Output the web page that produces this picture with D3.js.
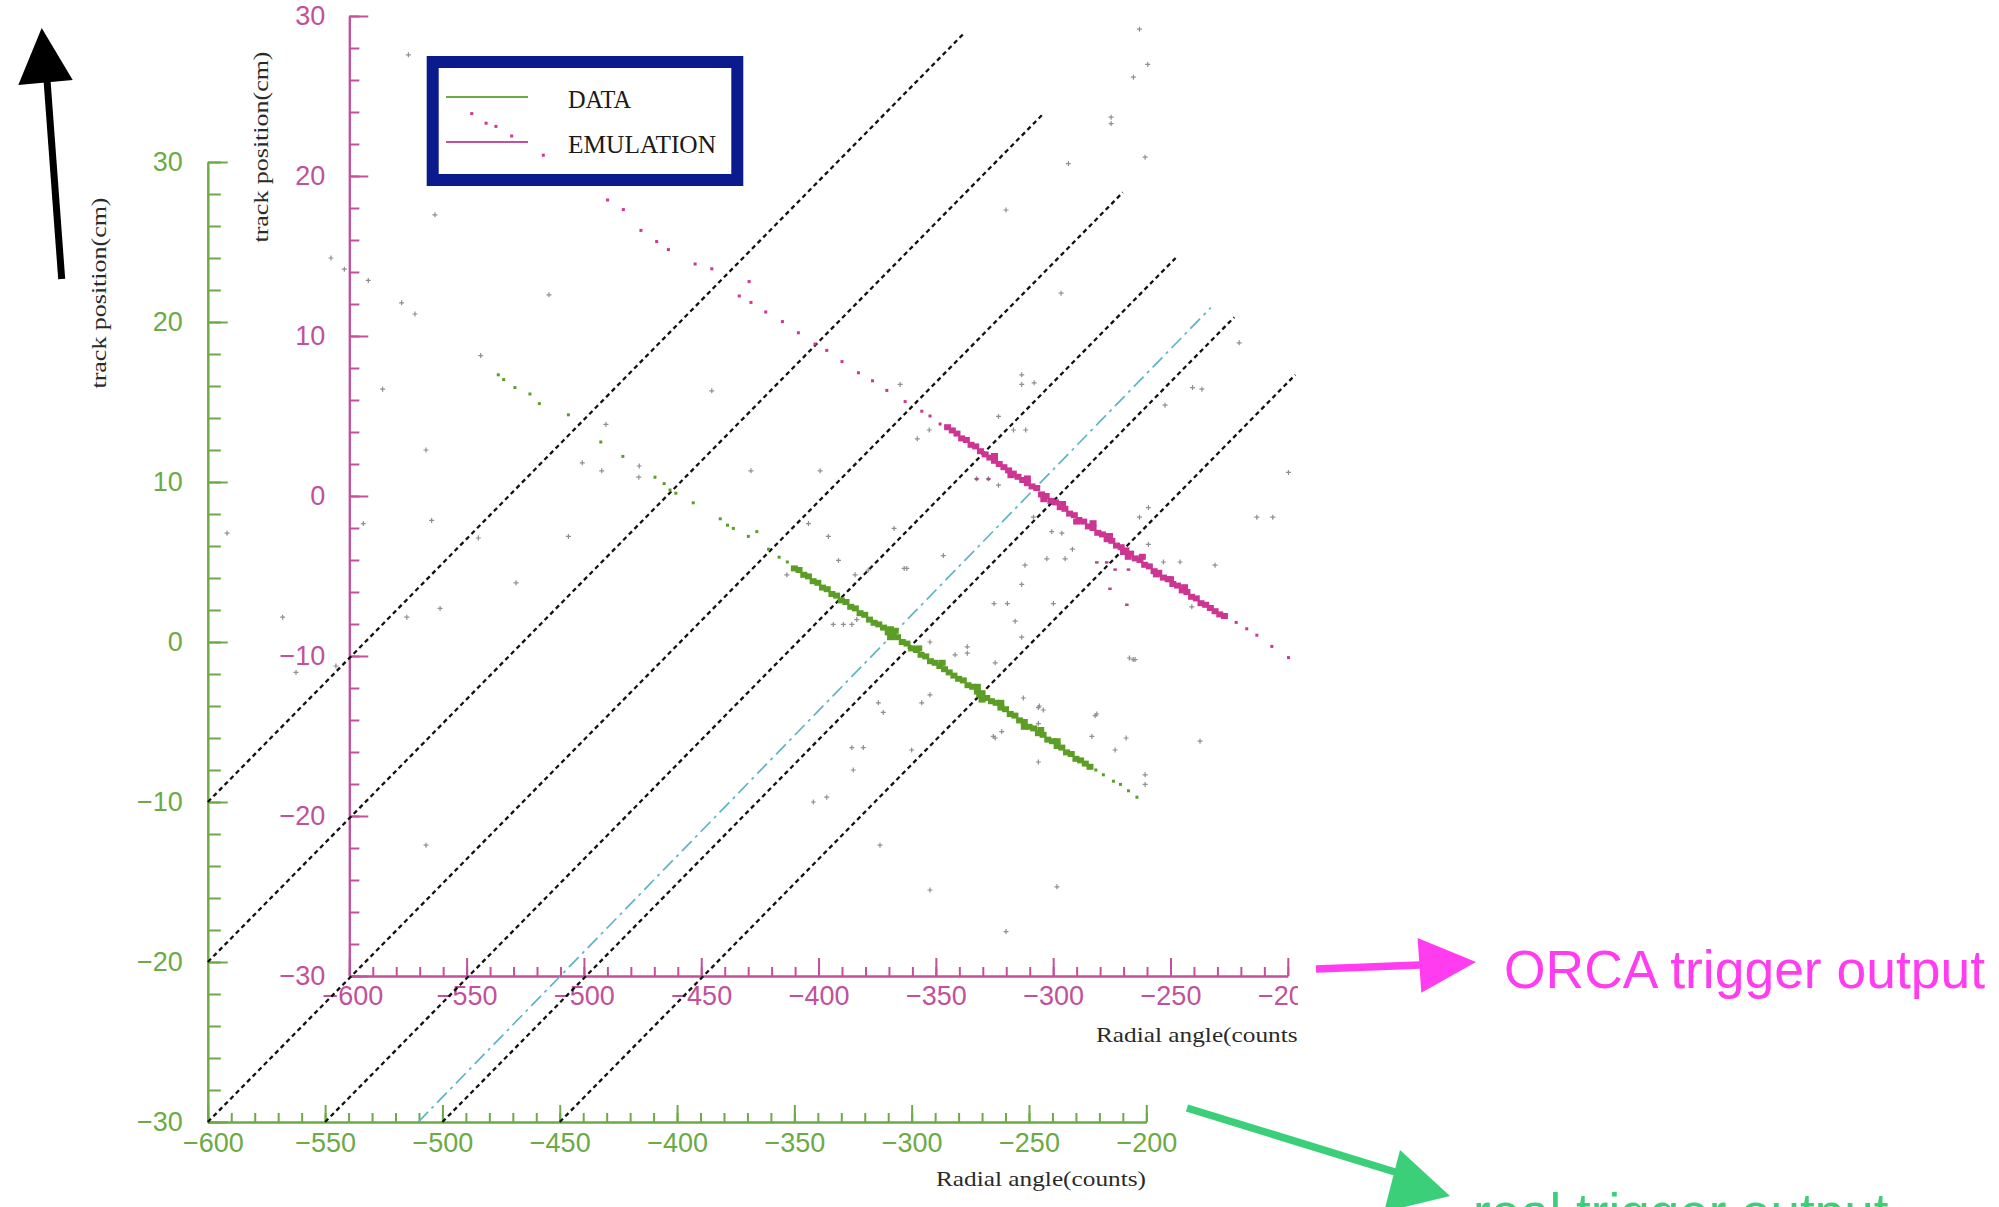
<!DOCTYPE html>
<html lang="en">
<head>
<meta charset="utf-8">
<title>Track position vs radial angle</title>
<script src="https://cdn.jsdelivr.net/npm/d3@7/dist/d3.min.js"></script>
<style>
  html, body { margin: 0; padding: 0; background: #fff; }
  svg { display: block; }
</style>
</head>
<body>
<svg id="chart" width="1999" height="1207"></svg>
<script>
// ---------------- axis ticks ----------------
const angleTicks = [-600, -550, -500, -450, -400, -350, -300, -250, -200];
const positionTicks = [30, 20, 10, 0, -10, -20, -30];
const angleDomain = [-600, -200];
const positionDomain = [-30, 30];

// ---------------- legend ----------------
const seriesNames = ["DATA", "EMULATION"];

// ---------------- hits: real trigger output (counts, cm) ----------------
const dataTrackSparse = [
  [-476.2, 16.7], [-473.9, 16.4], [-469.1, 15.9], [-462.7, 15.5], [-458.7, 14.9], [-446.3, 14.2],
  [-432.5, 12.5], [-423.1, 11.6], [-409.4, 10.3], [-405.5, 9.9], [-403.0, 9.5], [-400.5, 9.3],
  [-393.1, 8.7], [-381.6, 7.7], [-378.5, 7.3], [-376.0, 7.1], [-369.6, 6.6], [-366.0, 6.9],
  [-361.0, 5.8], [-356.5, 5.3], [-353.0, 5.0],
  [-221.5, -8.0], [-218.3, -8.3], [-214.0, -8.7], [-211.0, -8.9], [-207.6, -9.3], [-204.0, -9.7]
];
const dataTrackDense = [
  [-350, 4.6], [-348, 4.5], [-346, 4.2], [-344, 4.1], [-342, 3.8], [-340, 3.7], [-338, 3.4],
  [-336, 3.3], [-334, 3.0], [-332, 2.9], [-330, 2.6], [-328, 2.5], [-326, 2.2], [-324, 2.1],
  [-322, 1.8], [-320, 1.7], [-318, 1.4], [-316, 1.2], [-314, 1.1], [-312, 0.9], [-310, 0.6],
  [-309, 0.8], [-308, 0.4], [-306, 0.3], [-304, 0.0], [-302, -0.1], [-300, -0.4], [-298, -0.5],
  [-296, -0.8], [-294, -0.9], [-292, -1.2], [-290, -1.3], [-288, -1.5], [-286, -1.7], [-284, -1.9],
  [-282, -2.1], [-280, -2.3], [-278, -2.4], [-276, -2.7], [-274, -2.8], [-272, -3.1], [-271, -3.3],
  [-270, -3.2], [-268, -3.5], [-266, -3.7], [-264, -3.8], [-262, -4.1], [-260, -4.2], [-258, -4.5],
  [-256, -4.6], [-254, -4.9], [-252, -5.0], [-250, -5.3], [-248, -5.4], [-246, -5.7], [-244, -5.8],
  [-242, -6.1], [-240, -6.2], [-238, -6.5], [-236, -6.6], [-234, -6.9], [-232, -7.0], [-230, -7.3],
  [-228, -7.4], [-226, -7.6], [-224, -7.8],
  // heavier clusters along the track
  [-309, 0.3], [-307, 0.7], [-297, -0.4], [-287, -1.3], [-272, -2.8], [-270, -3.6], [-262, -3.8],
  [-252, -5.3], [-245, -5.5], [-238, -6.2]
];

// ---------------- hits: ORCA emulation (counts, cm) ----------------
const emulTrackSparse = [
  [-547.8, 23.9], [-541.7, 23.3], [-537.5, 23.1], [-530.8, 22.5], [-517.3, 21.3], [-489.9, 18.5],
  [-483.2, 17.9], [-475.7, 16.6], [-469.0, 15.9], [-464.0, 15.4], [-452.6, 14.5], [-445.5, 14.2],
  [-433.8, 12.5], [-429.6, 13.4], [-428.8, 12.1], [-422.5, 11.5], [-415.4, 10.9], [-408.6, 10.2],
  [-401.5, 9.5], [-396.5, 9.1], [-390.0, 8.4], [-383.0, 7.7], [-377.0, 7.2], [-370.9, 6.6],
  [-363.1, 5.9], [-356.0, 5.3], [-352.5, 5.0], [-348.2, 4.5],
  [-222.0, -7.9], [-217.5, -8.3], [-213.2, -8.7], [-206.8, -9.4], [-199.7, -10.1]
];
const emulTrackDense = [
  [-345, 4.3], [-343, 4.1], [-341, 3.9], [-339, 3.6], [-337, 3.5], [-335, 3.2], [-333, 3.1],
  [-331, 2.8], [-329, 2.6], [-327, 2.4], [-325, 2.2], [-323, 2.0], [-321, 1.8], [-319, 1.6],
  [-317, 1.4], [-315, 1.2], [-313, 1.0], [-311, 0.8], [-309, 0.6], [-307, 0.5], [-305, 0.1],
  [-303, 0.0], [-301, -0.3], [-299, -0.4], [-297, -0.7], [-295, -0.8], [-293, -1.1], [-291, -1.2],
  [-289, -1.5], [-287, -1.6], [-285, -1.9], [-283, -2.0], [-281, -2.3], [-279, -2.4], [-277, -2.7],
  [-275, -2.8], [-273, -3.1], [-271, -3.2], [-270, -3.5], [-269, -3.4], [-267, -3.6], [-265, -3.9],
  [-263, -4.0], [-261, -4.3], [-259, -4.4], [-257, -4.7], [-255, -4.8], [-253, -5.1], [-251, -5.2],
  [-249, -5.5], [-247, -5.6], [-245, -5.9], [-243, -6.0], [-241, -6.3], [-239, -6.4], [-237, -6.7],
  [-235, -6.8], [-233, -7.0], [-231, -7.2], [-229, -7.4], [-227, -7.5],
  // heavier clusters along the track
  [-325, 2.5], [-318, 1.3], [-311, 1.1], [-304, -0.2], [-296, -0.5], [-290, -1.6], [-283, -1.7],
  [-276, -2.5], [-268, -3.8], [-262, -3.8], [-256, -4.9], [-250, -5.2], [-244, -5.7]
];
const emulStrays = [
  [-281.4, -4.15], [-277.2, -4.15], [-273.6, -4.6], [-267.9, -4.6], [-275.8, -5.8], [-268.6, -6.8],
  [-332.6, 1.06], [-327.6, 1.06]
];

// ---------------- isolated hits (real-data frame, counts, cm) ----------------
const strayHits = [
  [-202.9, 38.3], [-199.4, 36.1], [-205.5, 35.3], [-215.0, 32.8], [-215.0, 32.4], [-233.2, 29.9],
  [-200.5, 30.3], [-259.8, 27.0], [-236.3, 21.8], [-160.4, 18.7],
  [-454.6, 21.7], [-483.7, 17.9], [-430.3, 13.6], [-385.2, 15.7], [-440.4, 11.2], [-432.1, 10.7],
  [-416.1, 11.0], [-416.3, 10.3], [-368.5, 10.7], [-339.0, 10.7], [-335.5, 6.6], [-344.0, 7.4],
  [-446.3, 6.6], [-484.7, 6.5],
  [-253.1, 16.7], [-247.8, 16.2], [-253.1, 16.1], [-304.9, 16.1], [-263.0, 14.1], [-256.6, 13.25],
  [-251.4, 13.25], [-292.5, 13.25], [-297.6, 12.7], [-272.3, 10.2], [-267.3, 10.2], [-263.0, 9.8],
  [-307.5, 7.1], [-286.5, 5.4], [-303.2, 4.6], [-242.4, 5.2], [-234.6, 5.2], [-231.5, 5.8],
  [-240.3, 6.9], [-236.0, 6.8], [-248.1, 7.8], [-199.1, 8.4], [-202.9, 7.8], [-199.1, 6.1],
  [-192.7, 5.0], [-185.6, 5.0], [-170.7, 4.8], [-152.9, 7.8], [-146.1, 7.8], [-139.4, 10.6],
  [-180.3, 15.9], [-176.3, 15.8], [-192.0, 14.8], [-180.6, 2.2], [-253.1, 3.6], [-264.9, 2.4],
  [-259.2, 2.4], [-239.6, 2.4], [-255.9, 1.3], [-253.1, 0.3], [-276.3, -0.3], [-276.3, -0.7],
  [-281.5, -0.8], [-264.4, -1.3], [-207.2, -1.0], [-204.8, -1.1], [-292.2, 0.0], [-251.7, 4.8],
  [-331.2, 5.1], [-353.2, 4.2], [-324.1, 4.2], [-333.4, 1.1], [-329.1, 1.1], [-325.5, 1.1],
  [-323.4, 1.4], [-318.5, 4.5], [-302.1, 4.6], [-292.2, -3.3], [-314.2, -3.8], [-312.1, -4.4],
  [-295.7, -3.8], [-221.8, -4.6], [-223.2, -5.9], [-246.0, -4.1], [-243.9, -4.25], [-246.0, -5.1],
  [-261.6, -5.6], [-265.2, -5.9], [-246.0, -7.5], [-325.5, -6.6], [-320.6, -6.6], [-300.0, -6.75],
  [-324.9, -8.0], [-213.3, -6.75],
  [-341.9, -10.0], [-336.2, -9.7], [-313.5, -12.7], [-292.2, -15.5], [-238.1, -15.3], [-259.8, -18.1],
  [-177.1, -6.2], [-200.5, -8.3], [-200.5, -8.9], [-208.6, -6.0], [-221.1, -4.5], [-245.6, -4.0],
  [-264.4, -6.0], [-205.6, -1.1], [-252.4, -3.5],
  [-568.1, 1.55], [-547.5, 24.0], [-541.8, 23.3], [-531.6, 22.6], [-517.4, 21.2], [-511.7, 20.5],
  [-525.5, 15.8], [-507.0, 12.0], [-504.6, 7.6], [-533.7, 7.4], [-515.2, 1.55], [-501.0, 2.1],
  [-545.4, -1.5], [-507.0, -12.7], [-514.5, 36.7], [-503.2, 26.7], [-591.8, 6.8], [-468.6, 3.7],
  [-562.4, -1.9]
];

// ---------------- acceptance bands and centre line (real-data frame) ----------------
// each entry: [angle1, position1, angle2, position2]
const boundaryLines = [
  [-600, -10, -278.0, 38.0],
  [-600, -20, -244.0, 33.0],
  [-600, -30, -210.0, 28.1],
  [-550, -30, -187.5, 24.0],
  [-500, -30, -162.5, 20.3],
  [-450, -30, -136.5, 16.7]
];
const centreLine = [-510.3, -30, -172.5, 20.9];

// ---------------- drawing ----------------
const svg = d3.select("#chart");

const GREEN_AXIS = "#6caa45", GREEN_HIT = "#5c9e25";
const PINK_AXIS = "#c2509a", PINK_HIT = "#cc3592";
const fmt = d => d < 0 ? "\u2212" + Math.abs(d) : String(d);

const realFrame = { left: 207.8, top: 162, width: 938.5, height: 960 };
const emulFrame = { left: 349.3, top: 16, width: 938.5, height: 960 };

function scalesFor(f) {
  return {
    x: d3.scaleLinear().domain(angleDomain).range([f.left, f.left + f.width]),
    y: d3.scaleLinear().domain(positionDomain).range([f.top + f.height, f.top])
  };
}
const rs = scalesFor(realFrame);
const es = scalesFor(emulFrame);

const plot = svg.append("g");
svg.append("clipPath").attr("id", "plotClip")
  .append("rect").attr("x", 0).attr("y", 0).attr("width", 1298).attr("height", 1207);
plot.attr("clip-path", "url(#plotClip)");

function styleAxis(g, color, size) {
  g.attr("font-family", null).attr("font-size", null);
  g.selectAll("path, line").attr("stroke", color).attr("stroke-width", 2);
  g.selectAll("text").attr("fill", color)
    .style("font-family", "'Liberation Sans', Arial, sans-serif")
    .style("font-size", size + "px");
}

function drawFrame(s, color, o) {
  const g = plot.append("g");
  const yBase = s.y(-30), xBase = s.x(-600);
  // x axis (ticks pointing into the plot)
  const xMinor = g.append("g").attr("transform", `translate(0,${yBase})`)
    .call(d3.axisBottom(s.x).tickValues(d3.range(-600, -199, 10)).tickSize(-o.xMinor)
      .tickSizeOuter(0).tickFormat(""));
  styleAxis(xMinor, color, 27);
  const xMajor = g.append("g").attr("transform", `translate(0,${yBase})`)
    .call(d3.axisBottom(s.x).tickValues(angleTicks).tickSize(-o.xMajor)
      .tickSizeOuter(0).tickPadding(o.xPad).tickFormat(fmt));
  styleAxis(xMajor, color, 27);
  xMajor.selectAll(".tick text").filter(d => d === -600).attr("dx", o.firstShift);
  // y axis
  const yMinor = g.append("g").attr("transform", `translate(${xBase},0)`)
    .call(d3.axisLeft(s.y).tickValues(d3.range(-30, 30.1, 2)).tickSize(-o.yMinor)
      .tickSizeOuter(0).tickFormat(""));
  styleAxis(yMinor, color, 27);
  const yMajor = g.append("g").attr("transform", `translate(${xBase},0)`)
    .call(d3.axisLeft(s.y).tickValues(positionTicks).tickSize(-o.yMajor)
      .tickSizeOuter(0).tickPadding(o.yPad).tickFormat(fmt));
  styleAxis(yMajor, color, 27);
  return g;
}

drawFrame(rs, GREEN_AXIS, { xMajor: 17, xMinor: 9, yMajor: 20, yMinor: 13, xPad: 11, yPad: 25, firstShift: 5 });
drawFrame(es, PINK_AXIS, { xMajor: 18, xMinor: 9, yMajor: 19, yMinor: 10, xPad: 10, yPad: 24, firstShift: 3 });

// axis titles
const serif = "'Liberation Serif', 'Times New Roman', serif";
function yTitle(x, y) {
  plot.append("text").attr("transform", `translate(${x},${y}) rotate(-90)`)
    .attr("text-anchor", "middle").attr("textLength", 191).attr("lengthAdjust", "spacingAndGlyphs")
    .style("font-family", serif).style("font-size", "21px").attr("fill", "#2a2a2a")
    .text("track position(cm)");
}
yTitle(106, 293);
yTitle(268, 147);
plot.append("text").attr("x", 936).attr("y", 1186).attr("textLength", 210)
  .attr("lengthAdjust", "spacingAndGlyphs").style("font-family", serif).style("font-size", "22px")
  .attr("fill", "#2a2a2a").text("Radial angle(counts)");
plot.append("text").attr("x", 1096).attr("y", 1042).attr("textLength", 210)
  .attr("lengthAdjust", "spacingAndGlyphs").style("font-family", serif).style("font-size", "22px")
  .attr("fill", "#2a2a2a").text("Radial angle(counts)");

// legend
const lg = plot.append("g");
lg.append("rect").attr("x", 432.7).attr("y", 62).attr("width", 304.6).attr("height", 118)
  .attr("fill", "#fff").attr("stroke", "#0b1a8c").attr("stroke-width", 12);
const legendColors = [GREEN_AXIS, PINK_AXIS];
seriesNames.forEach((name, i) => {
  const y = 97 + i * 45;
  lg.append("line").attr("x1", 446).attr("x2", 528).attr("y1", y).attr("y2", y)
    .attr("stroke", legendColors[i]).attr("stroke-width", 2);
  lg.append("text").attr("x", 568).attr("y", y + 11)
    .attr("textLength", i === 0 ? 63 : 148).attr("lengthAdjust", "spacingAndGlyphs")
    .style("font-family", serif).style("font-size", "25px").attr("fill", "#1a1a1a").text(name);
});

// acceptance bands
plot.append("g").selectAll("line").data(boundaryLines).join("line")
  .attr("x1", d => rs.x(d[0])).attr("y1", d => rs.y(d[1]))
  .attr("x2", d => rs.x(d[2])).attr("y2", d => rs.y(d[3]))
  .attr("stroke", "#111").attr("stroke-width", 2.3).attr("stroke-dasharray", "4.5,3.5");
plot.append("line")
  .attr("x1", rs.x(centreLine[0])).attr("y1", rs.y(centreLine[1]))
  .attr("x2", rs.x(centreLine[2])).attr("y2", rs.y(centreLine[3]))
  .attr("stroke", "#5eb4c6").attr("stroke-width", 1.7).attr("stroke-dasharray", "14,5,3,5");

// isolated hits
plot.append("g").selectAll("path").data(strayHits).join("path")
  .attr("d", d => {
    const cx = rs.x(d[0]), cy = rs.y(d[1]);
    return `M${cx - 2.5},${cy}h5M${cx},${cy - 2.5}v5`;
  })
  .attr("stroke", "#8f8f8f").attr("stroke-width", 1.2);

function hits(s, pts, w, h, color) {
  plot.append("g").selectAll("rect").data(pts).join("rect")
    .attr("x", d => s.x(d[0]) - w / 2).attr("y", d => s.y(d[1]) - h / 2)
    .attr("width", w).attr("height", h).attr("fill", color);
}
hits(es, emulStrays, 3.5, 2.5, "#b0488a");
hits(rs, dataTrackSparse, 3, 3, GREEN_HIT);
hits(rs, dataTrackDense, 7, 6, GREEN_HIT);
hits(es, emulTrackSparse, 3, 3, PINK_HIT);
hits(es, emulTrackDense, 7, 6, PINK_HIT);

// ---------------- annotations ----------------
const ann = svg.append("g");
// upward arrow
ann.append("line").attr("x1", 61.7).attr("y1", 279).attr("x2", 47).attr("y2", 80)
  .attr("stroke", "#000").attr("stroke-width", 7);
ann.append("polygon").attr("points", "41.7,28 18.3,85 72.7,80").attr("fill", "#000");

// emulation pointer
const ORCA = "#ff3cf0";
ann.append("line").attr("x1", 1316).attr("y1", 969).attr("x2", 1420).attr("y2", 965)
  .attr("stroke", ORCA).attr("stroke-width", 7.5);
ann.append("polygon").attr("points", "1476,962 1417.6,938 1421.3,992.7").attr("fill", ORCA);
ann.append("text").attr("x", 1504).attr("y", 988).attr("textLength", 481)
  .attr("lengthAdjust", "spacingAndGlyphs")
  .style("font-family", "'Liberation Sans', Arial, sans-serif").style("font-size", "53px")
  .attr("fill", ORCA).text("ORCA trigger output");

// real-data pointer
const REAL = "#3ccf7a";
ann.append("line").attr("x1", 1187).attr("y1", 1108).attr("x2", 1395).attr("y2", 1172)
  .attr("stroke", REAL).attr("stroke-width", 7.5);
ann.append("polygon").attr("points", "1400,1150 1450,1196 1384,1212").attr("fill", REAL);
ann.append("text").attr("x", 1473).attr("y", 1231)
  .style("font-family", "'Liberation Sans', Arial, sans-serif").style("font-size", "53px")
  .attr("fill", REAL).text("real trigger output");
</script>
</body>
</html>
